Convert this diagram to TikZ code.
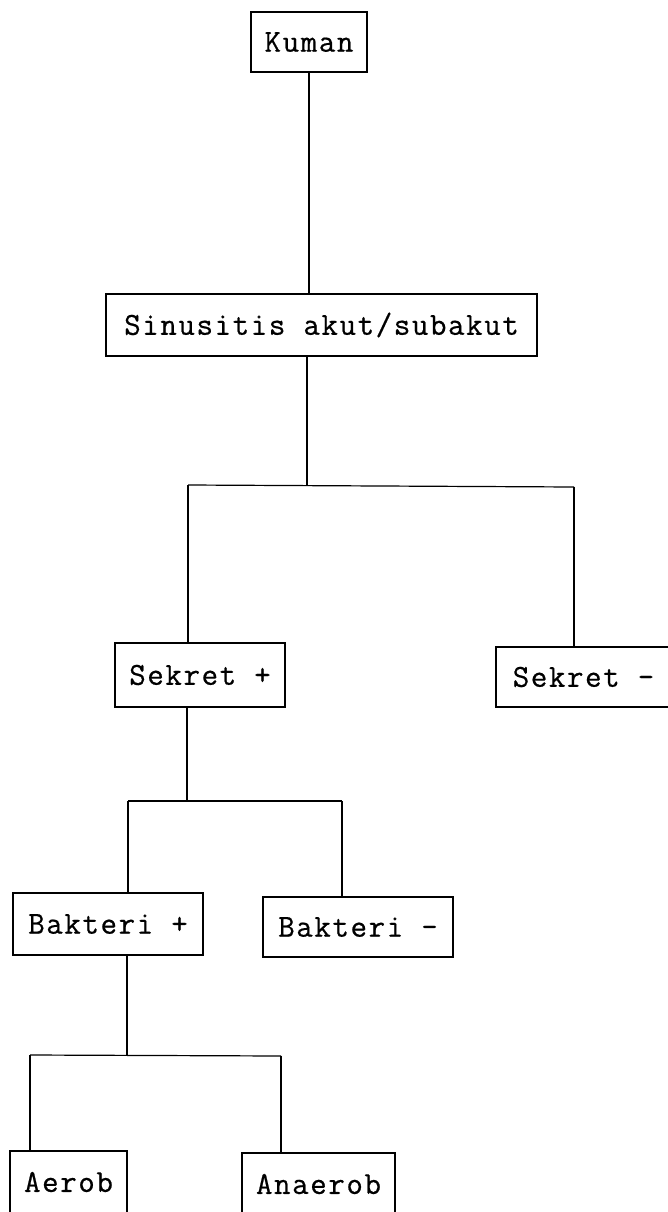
\documentclass[tikz,border=0pt]{standalone}
\usepackage{fontspec}
\newfontfamily\tw{Latin Modern Mono}[LetterSpace=5,FakeBold=0.6]
\begin{document}
\begin{tikzpicture}[x=1pt,y=-1pt,
  box/.style={draw, line width=1.2pt, inner sep=0pt, font=\tw\fontsize{32}{32}\selectfont},
  conn/.style={line width=1.2pt}]
\useasboundingbox (0,0) rectangle (668,1212);
\clip (0,0) rectangle (668,1212);
% boxes
\node[box, minimum width=116pt, minimum height=60pt] (kuman) at (309,42) {Kuman};
\node[box, minimum width=431pt, minimum height=62pt] (sin) at (321.5,325) {Sinusitis akut/subakut};
\node[box, minimum width=170pt, minimum height=64pt] (sekp) at (200,675) {Sekret +};
\node[box, minimum width=175pt, minimum height=60pt] (sekm) at (583.5,677) {Sekret -};
\node[box, minimum width=190pt, minimum height=62pt] (bakp) at (108,924) {Bakteri +};
\node[box, minimum width=190pt, minimum height=60pt] (bakm) at (358,927) {Bakteri -};
\node[box, minimum width=117pt, minimum height=62pt] (aerob) at (68.5,1182) {Aerob};
\node[box, minimum width=153pt, minimum height=62pt] (anaerob) at (318.5,1184) {Anaerob};
% junction coordinates
\coordinate (j1) at (307,485);
\coordinate (l1) at (188,485);
\coordinate (r1) at (574,487);
\coordinate (j2) at (187,801);
\coordinate (l2) at (128,801);
\coordinate (r2) at (342,801);
\coordinate (j3) at (127,1055);
\coordinate (l3) at (30,1055);
\coordinate (r3) at (281,1056);
% connectors
\draw[conn] (kuman.south) -- (kuman.south |- sin.north);
\draw[conn] (sin.south -| j1) -- (j1);
\draw[conn] (l1) -- (r1);
\draw[conn] (l1) -- (l1 |- sekp.north);
\draw[conn] (r1) -- (r1 |- sekm.north);
\draw[conn] (sekp.south -| j2) -- (j2);
\draw[conn] (l2) -- (r2);
\draw[conn] (l2) -- (l2 |- bakp.north);
\draw[conn] (r2) -- (r2 |- bakm.north);
\draw[conn] (bakp.south -| j3) -- (j3);
\draw[conn] (l3) -- (r3);
\draw[conn] (l3) -- (l3 |- aerob.north);
\draw[conn] (r3) -- (r3 |- anaerob.north);
\end{tikzpicture}
\end{document}
